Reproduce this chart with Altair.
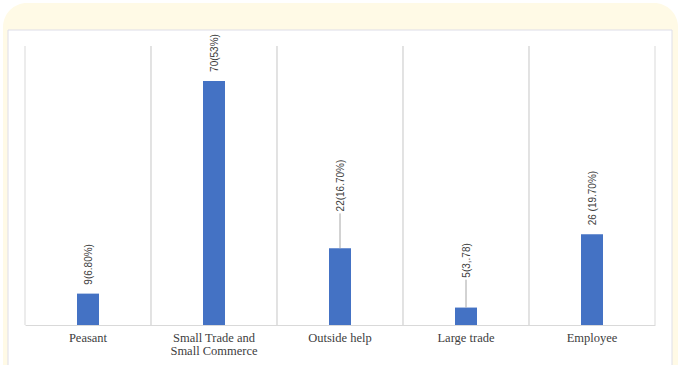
import altair as alt
import pandas as pd

categories = ["Peasant", "Small Trade and Small Commerce", "Outside help", "Large trade", "Employee"]
counts = [9, 70, 22, 5, 26]
value_labels = ["9(6.80%)", "70(53%)", "22(16.70%)", "5(3,.78)", "26 (19.70%)"]

df = pd.DataFrame({"category": categories, "count": counts, "label": value_labels})

W, H = 630, 279

x_enc = alt.X(
    "category:N",
    sort=categories,
    scale=alt.Scale(paddingInner=0, paddingOuter=0),
    axis=alt.Axis(
        title=None,
        labelAngle=0,
        labelAlign="center",
        bandPosition=0.5,
        ticks=False,
        grid=False,
        domain=True,
        domainColor="#d9d9d9",
        labelFont="Liberation Serif",
        labelFontSize=12.5,
        labelColor="#404040",
        labelPadding=12,
        labelLineHeight=13,
        zindex=1,
        labelExpr="datum.label == 'Small Trade and Small Commerce' ? ['Small Trade and', 'Small Commerce'] : datum.label",
    ),
)
y_scale = alt.Scale(domain=[0, 80])

base = alt.Chart(df)

cream = base.transform_filter("datum.category == 'Peasant'").mark_rect(
    color="#fffae6", cornerRadius=24
).encode(x=alt.value(-22), x2=alt.value(653), y=alt.value(-43), y2=alt.value(360))
panel = base.transform_filter("datum.category == 'Peasant'").mark_rect(
    fill="white", stroke="#dedee8", strokeWidth=1
).encode(x=alt.value(-17), x2=alt.value(647), y=alt.value(-16), y2=alt.value(340))

grid_left = base.mark_rule(color="#d9d9d9", strokeWidth=1).encode(
    x=alt.X("category:N", sort=categories, bandPosition=0),
    y=alt.value(0),
    y2=alt.value(H),
)
grid_right = base.mark_rule(color="#d9d9d9", strokeWidth=1).encode(
    x=alt.X("category:N", sort=categories, bandPosition=1),
    y=alt.value(0),
    y2=alt.value(H),
)

bars = base.mark_bar(size=22, color="#4472C4").encode(
    x=x_enc,
    y=alt.Y("count:Q", scale=y_scale, axis=None),
)

lifted = base.transform_calculate(
    lift="datum.category === 'Outside help' ? 10 : (datum.category === 'Large trade' ? 8 : 2)"
).transform_calculate(top="datum.count + datum.lift")

leaders = lifted.transform_filter("datum.lift > 3").mark_rule(
    color="#a6a6a6", strokeWidth=1
).encode(
    x=alt.X("category:N", sort=categories),
    y=alt.Y("count:Q"),
    y2="top:Q",
)

texts = lifted.mark_text(
    angle=270, align="left", baseline="middle", dx=2, dy=1,
    font="Liberation Sans", fontSize=10, color="#404040",
).encode(
    x=alt.X("category:N", sort=categories),
    y=alt.Y("top:Q"),
    text="label:N",
)

chart = alt.layer(cream, panel, grid_left, grid_right, bars, leaders, texts).properties(
    width=W,
    height=H,
    autosize=alt.AutoSizeParams(type="none"),
    padding={"left": 25, "top": 46, "right": 24, "bottom": 40},
    background="white",
).configure_view(stroke=None)

chart.save("out.html", embed_options={"renderer": "svg", "actions": False})
